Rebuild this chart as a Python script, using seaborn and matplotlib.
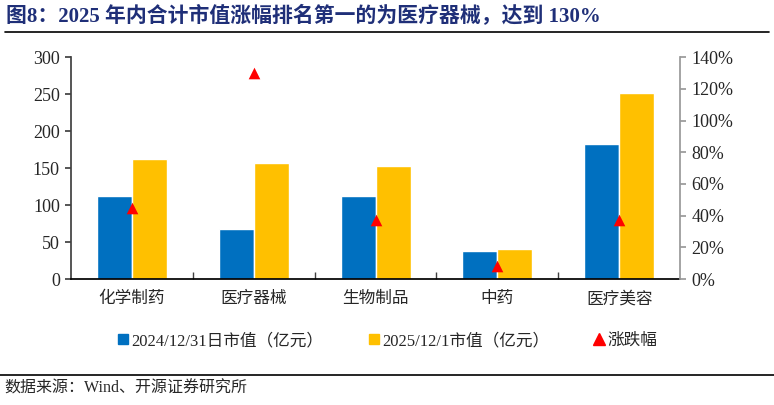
import matplotlib.pyplot as plt
import pandas as pd
import seaborn as sns
from matplotlib.lines import Line2D

sns.set_theme(style="ticks")
plt.rcParams["font.family"] = ["Liberation Serif", "Noto Sans CJK SC"]

categories = ["化学制药", "医疗器械", "生物制品", "中药", "医疗美容"]
cap_2024 = [112, 68, 112, 38, 182]
cap_2025 = [162, 157, 153, 41, 251]
change = [0.45, 1.30, 0.37, 0.08, 0.37]
series = ["2024/12/31日市值（亿元）", "2025/12/1市值（亿元）"]

df = pd.DataFrame({
    "category": categories * 2,
    "series": [series[0]] * 5 + [series[1]] * 5,
    "value": cap_2024 + cap_2025,
})
chg = pd.DataFrame({"category": categories, "change": change})

blue, gold, red = "#0070C0", "#FFC000", "#FF0000"

fig = plt.figure(figsize=(7.74, 4.05), dpi=100)
ax = fig.add_axes([0.0917, 0.311, 0.787, 0.548])
sns.barplot(data=df, x="category", y="value", hue="series", palette=[blue, gold],
            width=0.575, gap=0, saturation=1, legend=False, ax=ax)
ax.set_xlim(-0.5, 4.5)
ax.set_ylim(0, 300)
ax.set_yticks(range(0, 301, 50))
ax.set_xlabel("")
ax.set_ylabel("")
ax.tick_params(axis="y", labelsize=13, length=4, color="#404040", pad=4)
ax.tick_params(axis="x", labelsize=12, length=0, pad=8)
ax.set_xticks([0.5, 1.5, 2.5, 3.5], minor=True)
ax.tick_params(axis="x", which="minor", direction="in", length=5, color="#404040")
ax.spines["top"].set_visible(False)
ax.spines["right"].set_visible(False)
ax.spines["left"].set_color("#404040")
ax.spines["bottom"].set_color("black")
for lab in ax.get_xticklabels():
    lab.set_family(["Noto Sans CJK SC"])

ax2 = ax.twinx()
sns.scatterplot(data=chg, x="category", y="change", marker="^", s=70, color=red,
                linewidth=0, ax=ax2, legend=False)
ax2.set_ylim(0, 1.4)
ax2.set_yticks([i / 10 for i in range(0, 15, 2)])
ax2.set_yticklabels([f"{i * 10}%" for i in range(0, 15, 2)])
ax2.set_ylabel("")
ax2.tick_params(axis="y", labelsize=13, length=4, color="#999999", pad=4)
ax2.spines["top"].set_visible(False)
ax2.spines["left"].set_visible(False)
ax2.spines["bottom"].set_visible(False)
ax2.spines["right"].set_color("#999999")

handles = [
    Line2D([], [], marker="s", linestyle="", color=blue, markersize=7),
    Line2D([], [], marker="s", linestyle="", color=gold, markersize=7),
    Line2D([], [], marker="^", linestyle="", color=red, markersize=8),
]
fig.legend(handles, series + ["涨跌幅"], loc="center", bbox_to_anchor=(0.5, 0.158),
           ncol=3, frameon=False, handletextpad=0.1, columnspacing=2.6,
           handlelength=0.8, prop={"family": ["Liberation Serif", "Noto Sans CJK SC"], "size": 12})

fig.text(0.008, 0.958, "图8：2025 年内合计市值涨幅排名第一的为医疗器械，达到 130%",
         fontsize=15, fontweight="bold", color="#1F2F78", va="center", ha="left")
fig.add_artist(Line2D([0.006, 0.994], [0.922, 0.922], color="black", linewidth=1.2))
fig.add_artist(Line2D([0.0, 1.0], [0.074, 0.074], color="black", linewidth=1.2))
fig.text(0.006, 0.04, "数据来源：Wind、开源证券研究所", fontsize=11.5, va="center", ha="left")

fig.savefig("out.png", dpi=100)
